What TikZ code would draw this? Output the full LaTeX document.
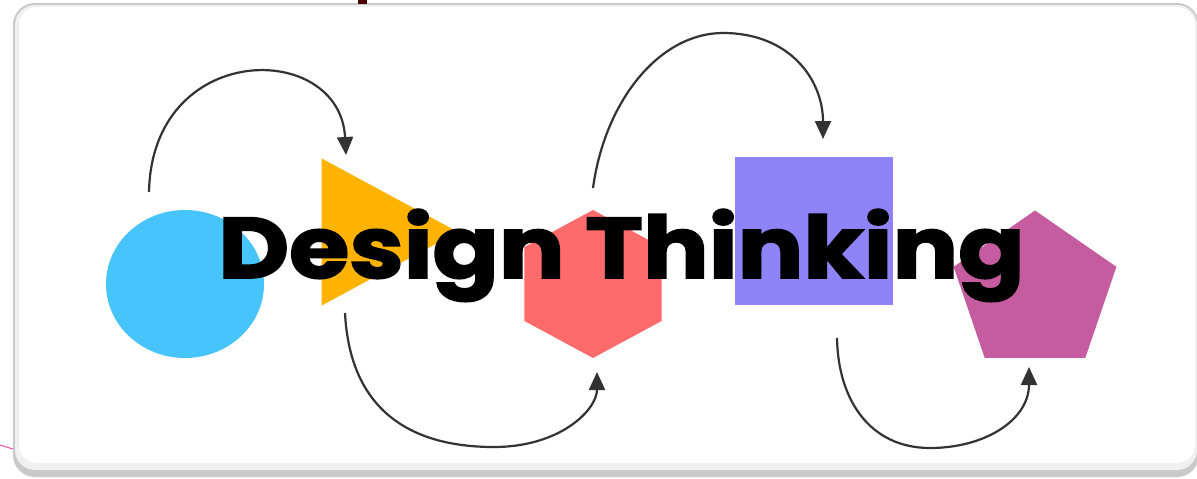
\documentclass[tikz,border=0pt]{standalone}
\usepackage{fontspec}
\setmainfont{Poppins}[BoldFeatures={FakeBold=2}]
\usetikzlibrary{shapes.geometric,arrows.meta}

\definecolor{cardgray}{HTML}{C9C9C9}
\definecolor{skyblue}{HTML}{47C4FA}
\definecolor{amber}{HTML}{FDB300}
\definecolor{coral}{HTML}{FF6B6B}
\definecolor{lavender}{HTML}{8E83F8}
\definecolor{orchid}{HTML}{C55C9F}
\definecolor{arrowgray}{HTML}{333333}

\begin{document}
\begin{tikzpicture}[x=1pt,y=-1pt,
    stage/.style={inner sep=0pt,outer sep=0pt},
    flow/.style={draw=arrowgray,line width=2.2pt,-{Triangle[length=18pt,width=16pt]}}]
    \useasboundingbox (0,0) rectangle (1197,479);
    \fill[white] (0,0) rectangle (1197,479);
    \fill[cardgray,rounded corners=22pt] (13,3) rectangle (1199,477);
    \fill[gray!12,rounded corners=20pt] (15,5) rectangle (1197,470);
    \fill[white,rounded corners=18pt] (19,7) rectangle (1195,463);
    \fill[black!70!red] (358,0) rectangle (367,4);
    \draw[magenta!70,line width=1pt] (0,445) -- (13,449);

    \node[stage,ellipse,fill=skyblue,minimum width=158pt,minimum height=148pt] (S1) at (185,284) {};
    \node[stage,regular polygon,regular polygon sides=3,shape border rotate=-90,fill=amber,minimum size=170pt,xscale=1.07] (S2) at (367,232) {};
    \node[stage,regular polygon,regular polygon sides=6,shape border rotate=30,fill=coral,minimum size=148pt,xscale=1.07] (S3) at (593,284) {};
    \node[stage,rectangle,fill=lavender,minimum width=158pt,minimum height=148pt] (S4) at (814,231) {};
    \node[stage,regular polygon,regular polygon sides=5,fill=orchid,minimum size=163pt,xscale=1.05] (S5) at (1035,292) {};

    \node[anchor=base west,inner sep=0pt,xscale=1.135,font=\fontsize{86}{90}\selectfont\bfseries] (title) at (218,278) {Design Thinking};

    \coordinate (a1) at (149,192);
    \coordinate (b1) at (346,155);
    \coordinate (a2) at (345,313);
    \coordinate (m2) at (494,447);
    \coordinate (b2) at (597,372);
    \coordinate (a3) at (593,188);
    \coordinate (m3) at (723,33);
    \coordinate (b3) at (823,139);
    \coordinate (a4) at (837,338);
    \coordinate (m4) at (930,448);
    \coordinate (b4) at (1029,367);

    \draw[flow] (a1) .. controls (152,40) and (340,40) .. (b1);
    \draw[flow] (a2) .. controls (350,410) and (410,447) .. (m2) .. controls (560,447) and (597,410) .. (b2);
    \draw[flow] (a3) .. controls (605,100) and (660,33) .. (m3) .. controls (790,33) and (823,80) .. (b3);
    \draw[flow] (a4) .. controls (838,400) and (870,448) .. (m4) .. controls (985,448) and (1029,420) .. (b4);
\end{tikzpicture}
\end{document}
